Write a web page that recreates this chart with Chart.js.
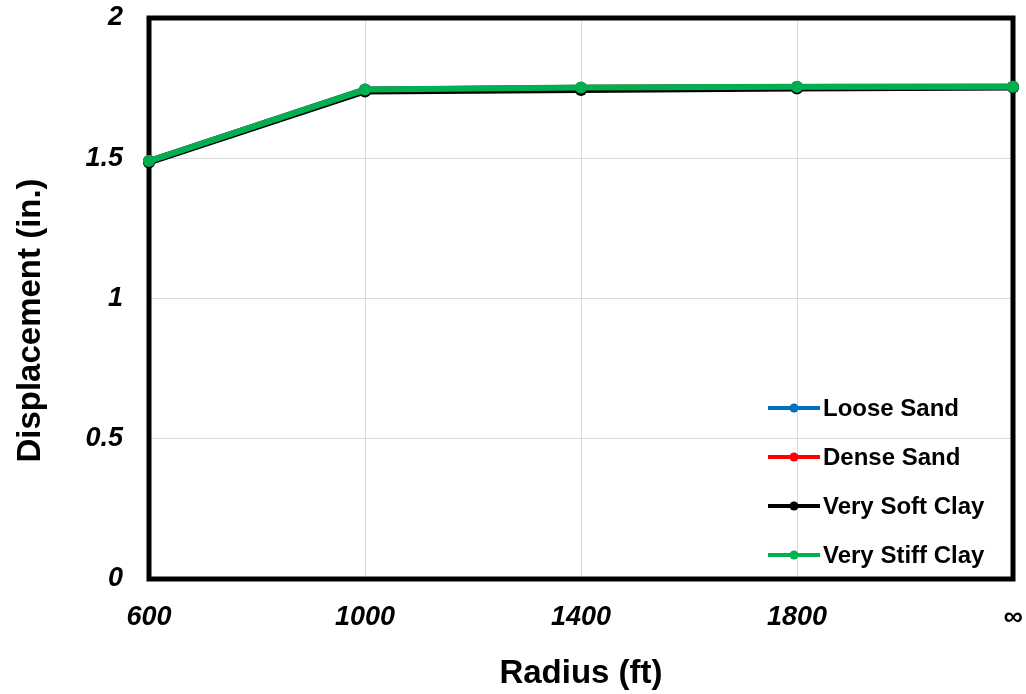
<!DOCTYPE html>
<html>
<head>
<meta charset="utf-8">
<script src="https://cdn.jsdelivr.net/npm/chart.js@4/dist/chart.umd.min.js"></script>
<style>
  html, body { margin: 0; padding: 0; background: #fff; }
  #wrap { width: 1026px; height: 694px; }
</style>
</head>
<body>
<div id="wrap"><canvas id="radiusChart" width="1026" height="694"></canvas></div>
<script>
// Radius categories (last one is "infinite" radius)
const radiusLabels = ['600', '1000', '1400', '1800', '\u221E'];

// Displacement (in.) for each soil type
const looseSand = [1.49, 1.745, 1.750, 1.754, 1.755];
const denseSand = [1.49, 1.744, 1.751, 1.754, 1.755];
const verySoftClay = [1.485, 1.738, 1.743, 1.749, 1.752];
const veryStiffClay = [1.49, 1.745, 1.752, 1.755, 1.755];

const yTicks = [0, 0.5, 1, 1.5, 2];
const yTitle = 'Displacement (in.)';
const xTitle = 'Radius (ft)';

const FONT = '"Liberation Sans", Arial, sans-serif';

function makeSeries(label, data, color, order) {
    return {
        label: label,
        data: data,
        borderColor: color,
        backgroundColor: color,
        borderWidth: 6,
        pointRadius: 6,
        pointHoverRadius: 6,
        pointBorderWidth: 0,
        fill: false,
        tension: 0,
        order: order
    };
}

// draws the thick frame round the plot area (under the lines)
const framePlugin = {
    id: 'frame',
    beforeDatasetsDraw(chart) {
        const { ctx, chartArea } = chart;
        ctx.save();
        ctx.strokeStyle = '#000';
        ctx.lineWidth = 5;
        ctx.strokeRect(chartArea.left, chartArea.top,
            chartArea.right - chartArea.left, chartArea.bottom - chartArea.top);
        ctx.restore();
    }
};

// y axis title sits a bit below the middle of the plot in the original
const yTitlePlugin = {
    id: 'yTitle',
    afterDraw(chart, args, opts) {
        const { ctx, chartArea } = chart;
        ctx.save();
        ctx.translate(opts.x, (chartArea.top + chartArea.bottom) / 2 + opts.shift);
        ctx.rotate(-Math.PI / 2);
        ctx.font = 'bold 33px ' + FONT;
        ctx.fillStyle = '#000';
        ctx.textAlign = 'center';
        ctx.textBaseline = 'middle';
        ctx.fillText(yTitle, 0, 0);
        ctx.restore();
    }
};

// legend inside the plot, bottom right
const insideLegend = {
    id: 'insideLegend',
    afterDatasetsDraw(chart, args, opts) {
        const { ctx, chartArea } = chart;
        const x0 = chartArea.right - opts.fromRight;
        ctx.save();
        ctx.font = 'bold 24px ' + FONT;
        ctx.textBaseline = 'middle';
        ctx.textAlign = 'left';
        chart.data.datasets.forEach((ds, i) => {
            const y = chartArea.bottom - opts.firstFromBottom + i * opts.rowGap;
            ctx.strokeStyle = ds.borderColor;
            ctx.lineWidth = 4;
            ctx.beginPath();
            ctx.moveTo(x0, y);
            ctx.lineTo(x0 + opts.lineLen, y);
            ctx.stroke();
            ctx.fillStyle = ds.borderColor;
            ctx.beginPath();
            ctx.arc(x0 + opts.lineLen / 2, y, 4.5, 0, Math.PI * 2);
            ctx.fill();
            ctx.fillStyle = '#000';
            ctx.fillText(ds.label, x0 + opts.lineLen + 3, y + 1);
        });
        ctx.restore();
    }
};

const ctx = document.getElementById('radiusChart').getContext('2d');
const radiusChart = new Chart(ctx, {
    type: 'line',
    data: {
        labels: radiusLabels,
        datasets: [
            makeSeries('Loose Sand', looseSand, '#0070C0', 3),
            makeSeries('Dense Sand', denseSand, '#FF0000', 2),
            makeSeries('Very Soft Clay', verySoftClay, '#000000', 1),
            makeSeries('Very Stiff Clay', veryStiffClay, '#00B050', 0)
        ]
    },
    options: {
        responsive: false,
        animation: false,
        layout: { padding: { top: 18, right: 13, left: 0, bottom: 0 } },
        scales: {
            x: {
                type: 'category',
                offset: false,
                grid: { color: '#d9d9d9', lineWidth: 1, drawTicks: false },
                border: { display: false },
                ticks: {
                    color: '#000',
                    padding: 22,
                    maxRotation: 0,
                    font: { family: FONT, size: 27, weight: 'bold', style: 'italic' }
                },
                title: {
                    display: true,
                    text: xTitle,
                    color: '#000',
                    padding: { top: 3, bottom: 0 },
                    font: { family: FONT, size: 33, weight: 'bold' }
                },
                afterFit: function (scale) {
                    scale.height = 115;
                    scale.paddingLeft = 0;
                    scale.paddingRight = 0;
                }
            },
            y: {
                min: 0,
                max: 2,
                afterBuildTicks: function (scale) {
                    scale.ticks = yTicks.map(v => ({ value: v }));
                },
                grid: { color: '#d9d9d9', lineWidth: 1, drawTicks: false },
                border: { display: false },
                ticks: {
                    color: '#000',
                    padding: 26,
                    callback: v => String(v),
                    font: { family: FONT, size: 27, weight: 'bold', style: 'italic' }
                },
                title: { display: false },
                afterFit: function (scale) {
                    scale.width = 149;
                    scale.paddingTop = 0;
                    scale.paddingBottom = 0;
                }
            }
        },
        plugins: {
            legend: { display: false },
            tooltip: { enabled: false },
            yTitle: { x: 31, shift: 22 },
            insideLegend: { fromRight: 245, lineLen: 52, firstFromBottom: 171, rowGap: 49 }
        }
    },
    plugins: [framePlugin, yTitlePlugin, insideLegend]
});
</script>
</body>
</html>
